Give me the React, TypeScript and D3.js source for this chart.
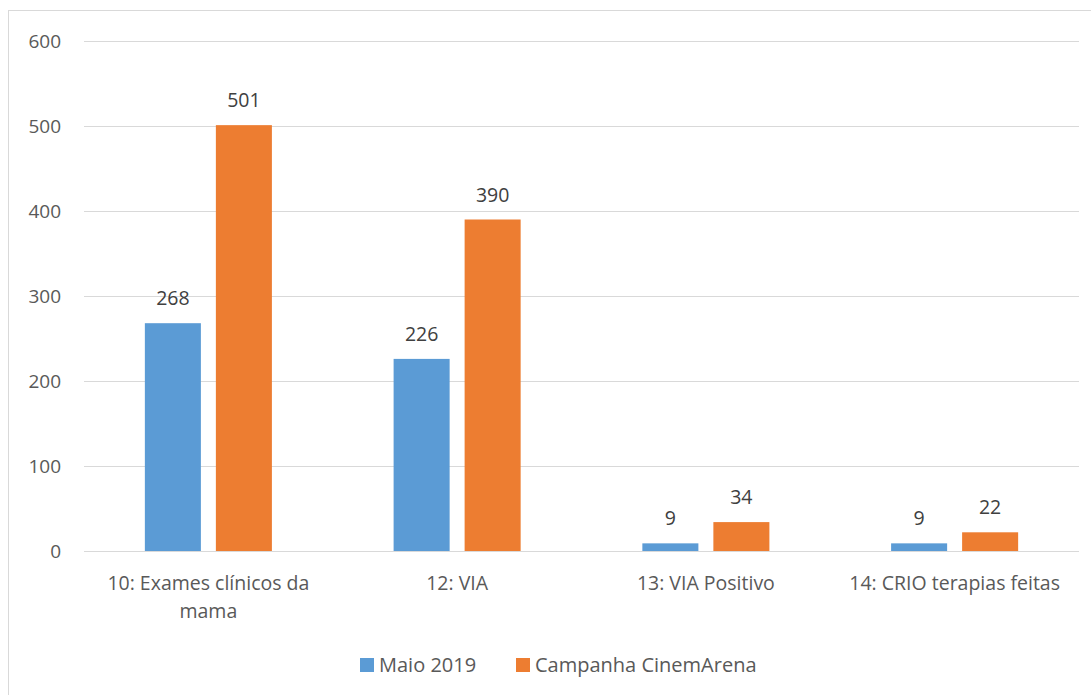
import { useEffect, useRef } from "react";
import * as d3 from "d3";

const categories = [
  ["10: Exames clínicos da", "mama"],
  ["12: VIA"],
  ["13: VIA Positivo"],
  ["14: CRIO terapias feitas"],
];
const seriesNames = ["Maio 2019", "Campanha CinemArena"];
const maio2019 = [268, 226, 9, 9];
const campanha = [501, 390, 34, 22];
const yTicks = [0, 100, 200, 300, 400, 500, 600];

const colors = ["#5B9BD5", "#ED7D31"];
const FONT = "'Open Sans', sans-serif";

export default function App() {
  const svgRef = useRef<SVGSVGElement>(null);
  const width = 1091;
  const height = 695;
  const margin = { top: 41, right: 12, bottom: 144, left: 84 };

  useEffect(() => {
    const svg = d3.select(svgRef.current);
    svg.selectAll("*").remove();

    // Chart border (top and left visible, rest clipped)
    svg
      .append("rect")
      .attr("x", 8.5)
      .attr("y", 10.5)
      .attr("width", 1100)
      .attr("height", 700)
      .attr("fill", "white")
      .attr("stroke", "#D9D9D9");

    const x0 = d3
      .scaleBand<number>()
      .domain(d3.range(categories.length))
      .range([margin.left, width - margin.right]);

    const x1 = d3
      .scaleBand<number>()
      .domain([0, 1])
      .range([0, x0.bandwidth()])
      .paddingInner(0.211)
      .paddingOuter(0.857);

    const y = d3
      .scaleLinear()
      .domain([0, 600])
      .range([height - margin.bottom, margin.top]);

    // Gridlines
    svg
      .append("g")
      .selectAll("line")
      .data(yTicks)
      .join("line")
      .attr("x1", margin.left)
      .attr("x2", width - margin.right)
      .attr("y1", (d) => Math.round(y(d)) + 0.5)
      .attr("y2", (d) => Math.round(y(d)) + 0.5)
      .attr("stroke", "#D9D9D9")
      .attr("stroke-width", 1.2);

    // Y tick labels
    svg
      .append("g")
      .selectAll("text")
      .data(yTicks)
      .join("text")
      .attr("x", 61)
      .attr("y", (d) => y(d))
      .attr("dy", "0.35em")
      .attr("text-anchor", "end")
      .attr("font-family", FONT)
      .attr("font-size", 19)
      .attr("fill", "#595959")
      .text((d) => d);

    const series = [maio2019, campanha];

    series.forEach((vals, si) => {
      const g = svg.append("g");
      g.selectAll("rect")
        .data(vals)
        .join("rect")
        .attr("x", (_, i) => (x0(i) as number) + (x1(si) as number))
        .attr("width", x1.bandwidth())
        .attr("y", (d) => y(d))
        .attr("height", (d) => y(0) - y(d))
        .attr("fill", colors[si]);

      g.selectAll("text")
        .data(vals)
        .join("text")
        .attr(
          "x",
          (_, i) => (x0(i) as number) + (x1(si) as number) + x1.bandwidth() / 2
        )
        .attr("y", (d) => y(d) - 18)
        .attr("text-anchor", "middle")
        .attr("font-family", FONT)
        .attr("font-size", 19.5)
        .attr("fill", "#404040")
        .text((d) => d);
    });

    // Baseline over bars
    svg
      .append("line")
      .attr("x1", margin.left)
      .attr("x2", width - margin.right)
      .attr("y1", Math.round(y(0)) + 0.5)
      .attr("y2", Math.round(y(0)) + 0.5)
      .attr("stroke", "#D9D9D9")
      .attr("stroke-width", 1.2);

    // Category labels
    const cat = svg
      .append("g")
      .selectAll("text")
      .data(categories)
      .join("text")
      .attr("x", (_, i) => (x0(i) as number) + x0.bandwidth() / 2)
      .attr("y", 590)
      .attr("text-anchor", "middle")
      .attr("font-family", FONT)
      .attr("font-size", 19.5)
      .attr("fill", "#595959");
    cat
      .selectAll("tspan")
      .data((d) => d)
      .join("tspan")
      .attr("x", function () {
        return (this.parentNode as SVGTextElement).getAttribute("x");
      })
      .attr("dy", (_, i) => (i === 0 ? 0 : 28))
      .text((d) => d);

    // Legend
    const legendX = [360, 516];
    const lg = svg
      .append("g")
      .selectAll("g")
      .data(seriesNames)
      .join("g")
      .attr("transform", (_, i) => `translate(${legendX[i]}, 658)`);
    lg.append("rect")
      .attr("width", 14)
      .attr("height", 14)
      .attr("fill", (_, i) => colors[i]);
    lg.append("text")
      .attr("x", 19)
      .attr("y", 14)
      .attr("font-family", FONT)
      .attr("font-size", 20)
      .attr("fill", "#595959")
      .text((d) => d);
  }, []);

  return (
    <div style={{ position: "absolute", left: 0, top: 0 }}>
      <svg ref={svgRef} width={width} height={height} style={{ display: "block" }} />
    </div>
  );
}
